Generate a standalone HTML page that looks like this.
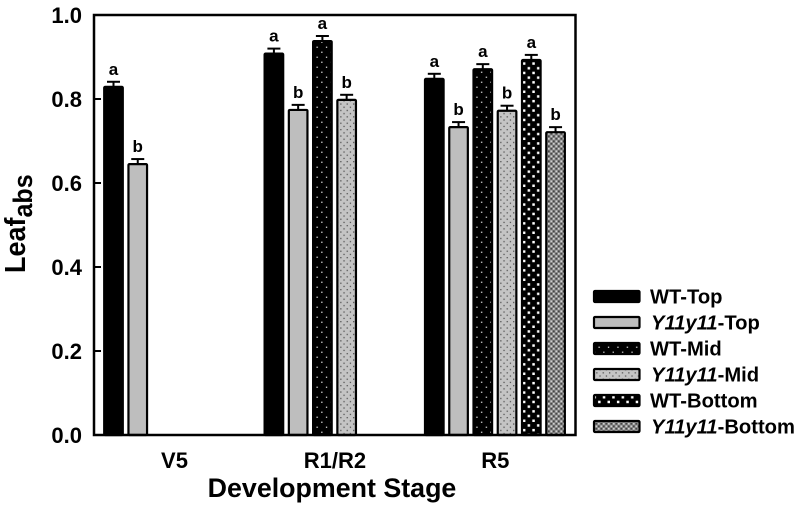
<!DOCTYPE html>
<html lang="en">
<head>
<meta charset="utf-8">
<title>Leaf abs by development stage</title>
<style>
html,body{margin:0;padding:0;background:#fff;}
body{width:800px;height:509px;overflow:hidden;}
svg{display:block;filter:blur(0.35px);}
text{font-family:"Liberation Sans",sans-serif;font-weight:bold;fill:#000;}
</style>
</head>
<body>
<svg id="chart" xmlns="http://www.w3.org/2000/svg" width="800" height="509" viewBox="0 0 800 509">
  <defs>
    <pattern id="p-wt-top" width="8" height="8" patternUnits="userSpaceOnUse"><rect width="8" height="8" fill="#000"/></pattern>
    <pattern id="p-y-top" width="8" height="8" patternUnits="userSpaceOnUse"><rect width="8" height="8" fill="#bebebe"/></pattern>
    <pattern id="p-wt-mid" width="9.4" height="10" patternUnits="userSpaceOnUse"><rect width="9.4" height="10" fill="#000"/><rect x="1.6" y="1.6" width="1.3" height="1.3" fill="#ddd"/><rect x="6.3" y="6.6" width="1.3" height="1.3" fill="#ddd"/></pattern>
    <pattern id="p-y-mid" width="6.4" height="6.4" patternUnits="userSpaceOnUse"><rect width="6.4" height="6.4" fill="#c4c4c4"/><rect x="1" y="1" width="1.3" height="1.3" fill="#555"/><rect x="4.2" y="4.2" width="1.3" height="1.3" fill="#555"/></pattern>
    <pattern id="p-wt-bot" width="9.4" height="9.4" patternUnits="userSpaceOnUse"><rect width="9.4" height="9.4" fill="#000"/><rect x="1.2" y="1.2" width="2.5" height="2.5" fill="#fff"/><rect x="5.9" y="5.9" width="2.5" height="2.5" fill="#fff"/></pattern>
    <pattern id="p-y-bot" width="5" height="5" patternUnits="userSpaceOnUse"><rect width="5" height="5" fill="#858585"/><rect x="0.5" y="0.5" width="1.6" height="1.6" fill="#cfcfcf"/><rect x="3" y="3" width="1.6" height="1.6" fill="#cfcfcf"/><rect x="3" y="0.5" width="1.6" height="1.6" fill="#444"/><rect x="0.5" y="3" width="1.6" height="1.6" fill="#444"/></pattern>
  </defs>
  <g id="bars"></g>
  <rect x="94" y="15" width="481.5" height="420" fill="none" stroke="#000" stroke-width="2.5"/>
  <g id="y-axis"></g>
  <g id="x-axis"></g>
  <text x="332" y="497" font-size="26.8" text-anchor="middle">Development Stage</text>
  <text transform="translate(25,273) rotate(-90) scale(0.93,1)" font-size="29">Leaf<tspan font-size="27" dy="7">abs</tspan></text>
  <g id="legend"></g>
</svg>
<script>
var categories = ['V5', 'R1/R2', 'R5'];
var seriesNames = ['WT-Top', 'Y11y11-Top', 'WT-Mid', 'Y11y11-Mid', 'WT-Bottom', 'Y11y11-Bottom'];
var seriesFills = ['p-wt-top', 'p-y-top', 'p-wt-mid', 'p-y-mid', 'p-wt-bot', 'p-y-bot'];
var yTicks = ['0.0', '0.2', '0.4', '0.6', '0.8', '1.0'];
var wtTop = [0.829, 0.908, 0.848];
var yTop = [0.645, 0.774, 0.733];
var wtMid = [null, 0.938, 0.871];
var yMid = [null, 0.798, 0.772];
var wtBottom = [null, null, 0.893];
var yBottom = [null, null, 0.721];
var seriesValues = [wtTop, yTop, wtMid, yMid, wtBottom, yBottom];
var errTop = [0.012, 0.012, 0.012];
var errMid = [0.012, 0.012, 0.012];
var errBottom = [0.012, 0.012, 0.012];
var seriesErrors = [errTop, errTop, errMid, errMid, errBottom, errBottom];
var sigWtTop = ['a', 'a', 'a'];
var sigYTop = ['b', 'b', 'b'];
var sigWtMid = ['', 'a', 'a'];
var sigYMid = ['', 'b', 'b'];
var sigWtBottom = ['', '', 'a'];
var sigYBottom = ['', '', 'b'];
var seriesLetters = [sigWtTop, sigYTop, sigWtMid, sigYMid, sigWtBottom, sigYBottom];

var NS = 'http://www.w3.org/2000/svg';
function yScale(v) { return 435 - v * 420; }
function groupX(i) { return 104.2 + i * 160.4; }
function barX(g, s) { return groupX(g) + s * 24.25; }
function groupCenter(i) { return 174.5 + i * 160.4; }
function make(tag, attrs, parent, txt) {
  var el = document.createElementNS(NS, tag);
  for (var k in attrs) el.setAttribute(k, attrs[k]);
  if (txt !== undefined) el.textContent = txt;
  parent.appendChild(el);
  return el;
}
var barW = 18.6;
var barsG = document.getElementById('bars');
seriesValues.forEach(function (vals, s) {
  vals.forEach(function (v, g) {
    if (v === null) return;
    var x = barX(g, s), y = yScale(v), cx = x + barW / 2;
    var top = yScale(v + seriesErrors[s][g]);
    var stem = make('line', {x1: cx, x2: cx, y1: y, y2: top, stroke: '#000', 'stroke-width': 2}, barsG);
    
    
    var cap = make('line', {x1: cx - 6.5, x2: cx + 6.5, y1: top, y2: top, stroke: '#000', 'stroke-width': 2}, barsG);
    
    
    var bar = make('rect', {x: x, y: y, width: barW, height: 435 - y, rx: 1, fill: 'url(#' + seriesFills[s] + ')', stroke: '#000', 'stroke-width': 2.2}, barsG);
    
    
    var sig = make('text', {x: cx, y: top - 7, 'font-size': 17, 'text-anchor': 'middle'}, barsG, seriesLetters[s][g]);
    
    
  });
});
var yG = document.getElementById('y-axis');
yTicks.forEach(function (t) {
  var y = yScale(parseFloat(t));
  var tick = make('line', {x1: 94, x2: 101, y1: y, y2: y, stroke: '#000', 'stroke-width': 2}, yG);
  
  
  var lab = make('text', {x: 82, y: y + 8, 'font-size': 22, 'text-anchor': 'end'}, yG, t);
  
  
});
var xG = document.getElementById('x-axis');
categories.forEach(function (c, i) {
  var lab = make('text', {x: groupCenter(i), y: 468, 'font-size': 22, 'text-anchor': 'middle'}, xG, c);
  
  
});
var legendG = document.getElementById('legend');
seriesNames.forEach(function (name, s) {
  var y = 291 + s * 26;
  var sw = make('rect', {x: 594, y: y, width: 45.5, height: 11, rx: 1, fill: 'url(#' + seriesFills[s] + ')', stroke: '#000', 'stroke-width': 2.2}, legendG);
  
  
  var t = make('text', {x: s % 2 ? 651 : 650, y: y + 12.5, 'font-size': 20.2}, legendG);
  
  
  var m = name.match(/^(Y11y11)(.*)$/);
  if (m) {
    make('tspan', {'font-style': 'italic'}, t, m[1]);
    make('tspan', {}, t, m[2]);
  } else {
    t.textContent = name;
  }
});
</script>
</body>
</html>
